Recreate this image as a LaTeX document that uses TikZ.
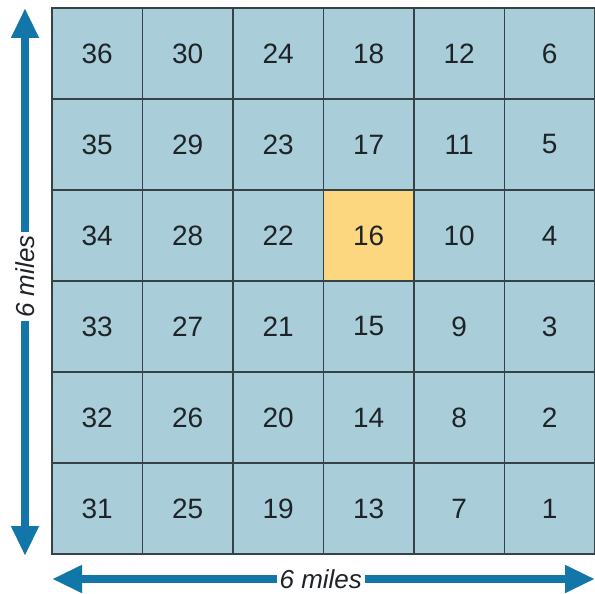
\documentclass[tikz,border=0pt]{standalone}
\usepackage{fontspec}
\setmainfont{Liberation Sans}
\usetikzlibrary{arrows.meta,positioning}
\definecolor{cellblue}{RGB}{170,205,218}
\definecolor{cellgold}{RGB}{253,215,128}
\definecolor{gridcol}{RGB}{55,65,72}
\definecolor{arrcol}{RGB}{18,118,168}
\definecolor{txtcol}{RGB}{30,35,40}
\tikzset{
  cell/.style ={rectangle,draw=gridcol,line width=1.2pt,fill=cellblue,text=txtcol,minimum width=90.5pt,minimum height=91pt,inner sep=0pt,font=\fontsize{28}{28}\selectfont},
  sec/.style  ={cell,fill=cellgold},
  dim/.style  ={arrcol,line width=8pt,{Triangle[length=30pt,width=26pt]}-{Triangle[length=30pt,width=26pt]}},
  dimlab/.style={fill=white,text=txtcol,inner xsep=3pt,inner ysep=0pt,font=\fontsize{26}{26}\selectfont\itshape},
}
\begin{document}
\begin{tikzpicture}[x=1pt,y=-1pt]
  \useasboundingbox (0,0) rectangle (595,594);
  \foreach \c in {0,...,5}{
    \foreach \r in {0,...,5}{
      \pgfmathtruncatemacro{\n}{36-6*\c-\r}
      \node[cell] (s\n) at ({97.25+90.5*\c},{53.5+91*\r}){\n};
    }
  }
  \node[sec] at (s16) {16};
  \coordinate (vt) at (25,8);
  \coordinate (vb) at (25,556);
  \coordinate (hl) at (52,579);
  \coordinate (hr) at (595,579);
  \draw[dim] (vb) -- (vt) node[dimlab,pos=0.51,rotate=90]{6 miles};
  \draw[dim] (hl) -- (hr) node[dimlab,pos=0.495]{6 miles};
\end{tikzpicture}
\end{document}
